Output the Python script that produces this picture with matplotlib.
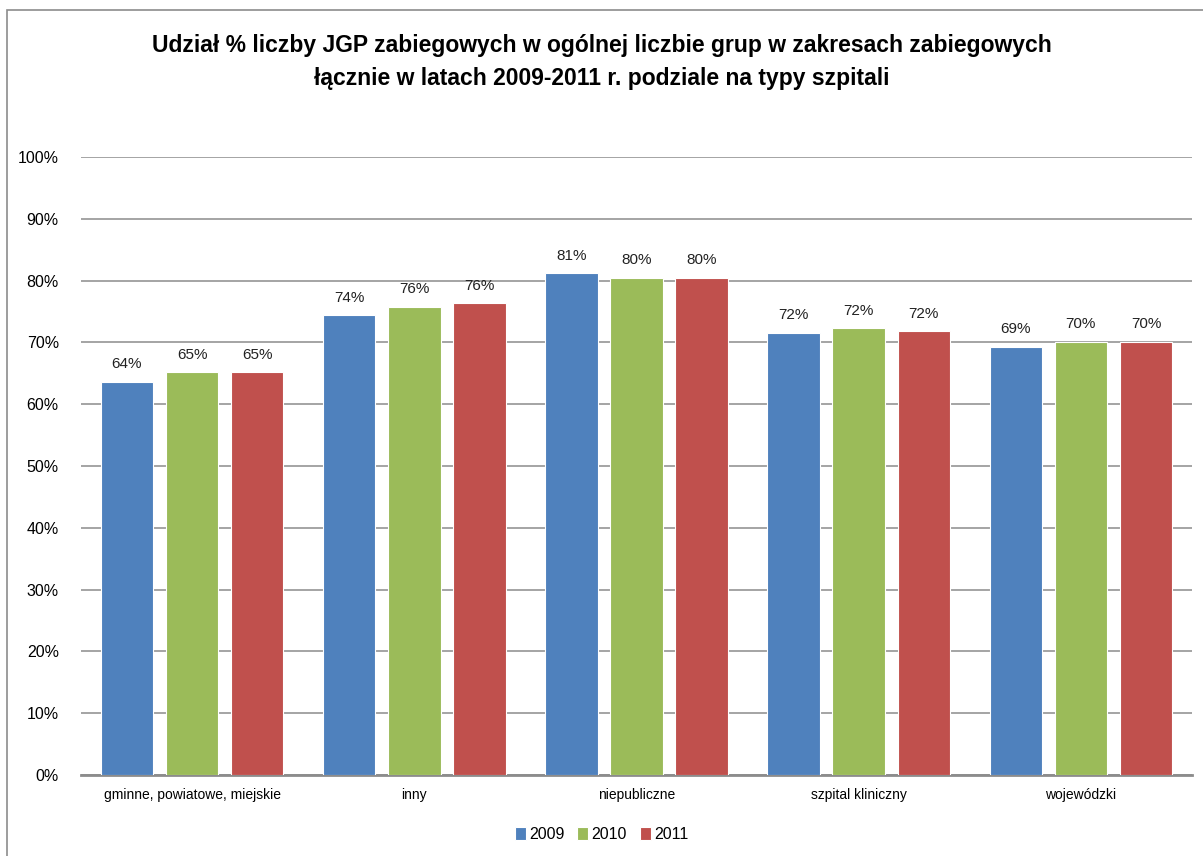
import matplotlib.pyplot as plt
import numpy as np
from matplotlib.patches import Rectangle
from matplotlib.ticker import FuncFormatter

plt.rcParams['font.family'] = ['Liberation Sans', 'DejaVu Sans']

# Hospital types and yearly share of surgical JGP groups
categories = ["gminne, powiatowe, miejskie", "inny", "niepubliczne",
              "szpital kliniczny", "wojewódzki"]
years = ["2009", "2010", "2011"]
share_2009 = [0.636, 0.744, 0.812, 0.716, 0.693]
share_2010 = [0.652, 0.758, 0.805, 0.723, 0.701]
share_2011 = [0.652, 0.763, 0.805, 0.718, 0.701]
colors = ["#4F81BD", "#9BBB59", "#C0504D"]

fig = plt.figure(figsize=(12.03, 8.56), dpi=100)

# chart area frame
fig.patches.append(Rectangle((7 / 1203, -0.1), 1.2, (846 / 856) + 0.1,
                             transform=fig.transFigure, fill=False,
                             edgecolor="#8C8C8C", linewidth=1.2))

ax = fig.add_axes([81 / 1203, 81 / 856, (1192 - 81) / 1203, (775 - 157) / 856])

x = np.arange(len(categories))
pitch = 0.293
width = 0.236
for i, (vals, col, yr) in enumerate(zip([share_2009, share_2010, share_2011], colors, years)):
    pos = x + (i - 1) * pitch
    bars = ax.bar(pos, vals, width, color=col, edgecolor="white", linewidth=0.8,
                  label=yr, zorder=3)
    for b, v in zip(bars, vals):
        ax.text(b.get_x() + b.get_width() / 2, v + 0.017, f"{round(v * 100):.0f}%",
                ha="center", va="bottom", fontsize=11, color="#222222")

ax.set_xlim(-0.5, len(categories) - 0.5)
ax.set_ylim(0, 1)
ax.set_yticks(np.arange(0, 1.01, 0.1))
ax.yaxis.set_major_formatter(FuncFormatter(lambda v, _: f"{v * 100:.0f}%"))
ax.yaxis.grid(True, color="#8C8C8C", linewidth=1.1, zorder=0)
ax.set_axisbelow(True)
ax.tick_params(axis="y", length=0, pad=16, labelsize=11.5)
ax.set_xticks(x)
ax.set_xticklabels(categories, fontsize=10)
ax.tick_params(axis="x", length=0, pad=9)
for s in ["left", "right", "top"]:
    ax.spines[s].set_visible(False)
ax.spines["bottom"].set_color("#8C8C8C")
ax.spines["bottom"].set_linewidth(2)

fig.text(0.5, 1 - 62 / 856, "Udział % liczby JGP zabiegowych w ogólnej liczbie grup w zakresach zabiegowych\n"
         "łącznie w latach 2009-2011 r. podziale na typy szpitali",
         ha="center", va="center", fontsize=16.5, fontweight="bold", linespacing=1.55)

fig.legend(loc="center", bbox_to_anchor=(0.5, 0.025), ncol=3, frameon=False,
           fontsize=11.5, handlelength=0.7, handleheight=0.9, handletextpad=0.2,
           columnspacing=0.8)

fig.savefig("out.png", dpi=100)
